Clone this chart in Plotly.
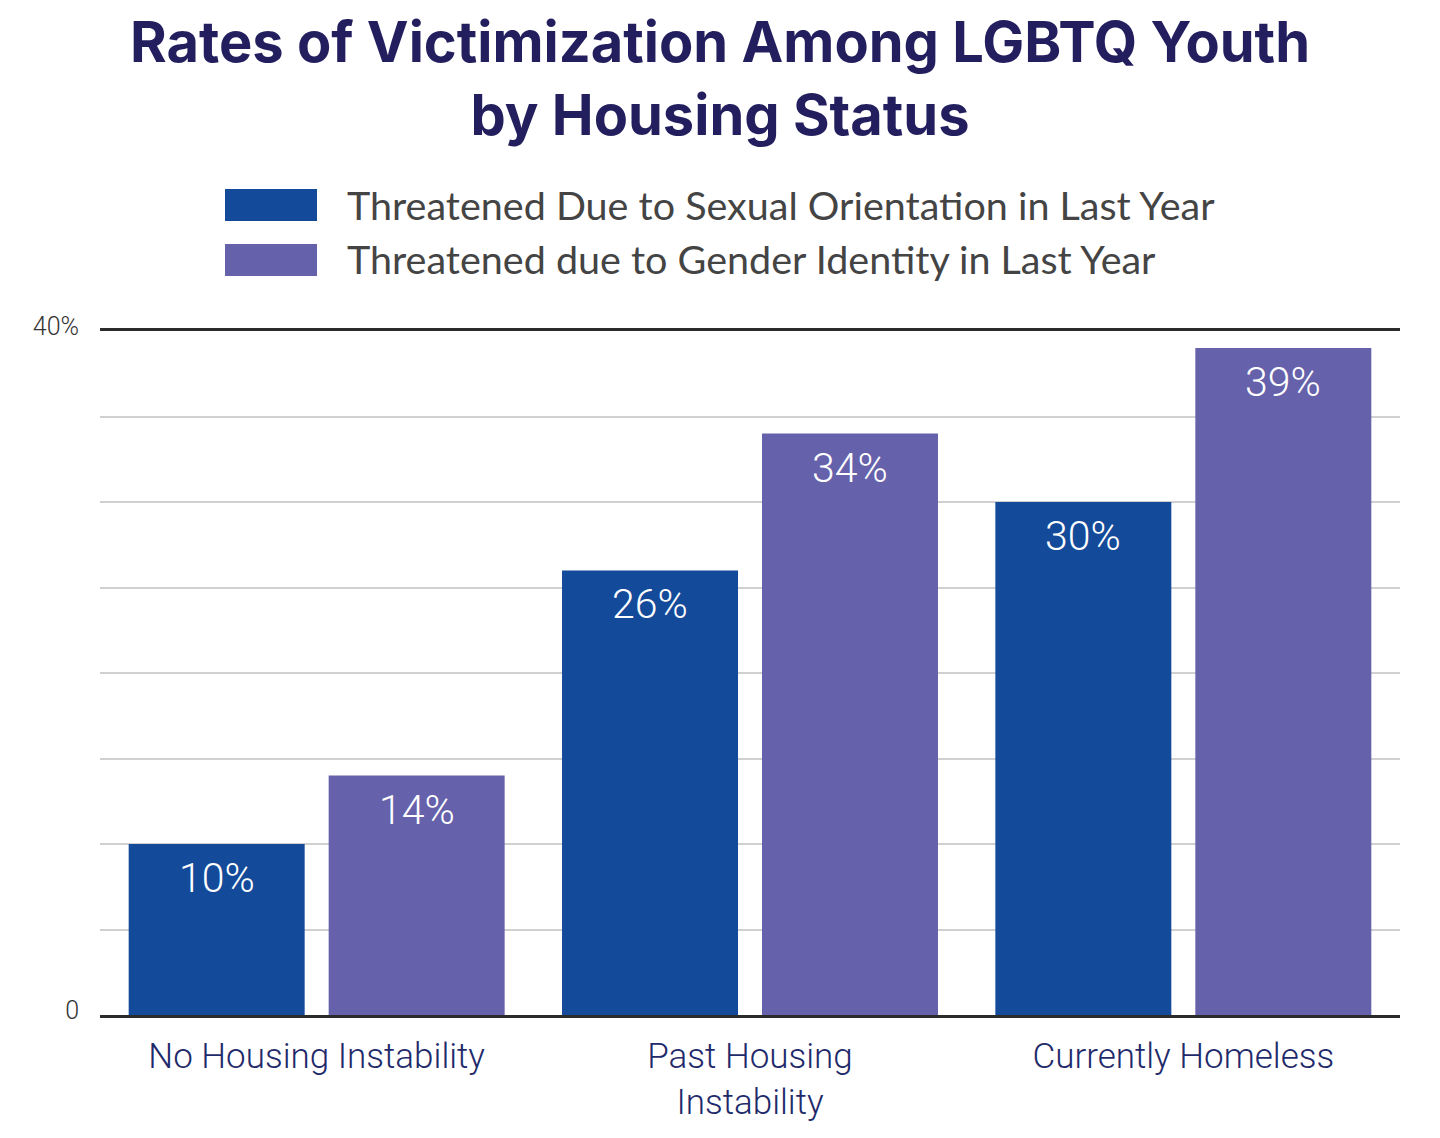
import plotly.graph_objects as go

# ---------- data ----------
categories = ["No Housing Instability", "Past Housing<br>Instability", "Currently Homeless"]
series_names = [
    "Threatened Due to Sexual Orientation in Last Year",
    "Threatened due to Gender Identity in Last Year",
]
sexual_orientation = [10, 26, 30]
gender_identity = [14, 34, 39]
y_tickvals = [0, 40]
y_ticktext = ["0", "40%"]

colors = ["#144a9a", "#6561ab"]
W, H = 1440, 1138
OFF = 8  # page body margin
M_L, M_R, M_T, M_B = 100 - OFF, 48, 331 - OFF, 123 + OFF


def px_x(x):
    return (x - OFF - M_L) / (W - M_L - M_R)


def px_y(y):
    return (H - M_B - (y - OFF)) / (H - M_T - M_B)


fig = go.Figure()
for name, vals, col in zip(series_names, [sexual_orientation, gender_identity], colors):
    fig.add_trace(go.Bar(
        x=categories, y=vals, name=name, marker_color=col,
        marker_line_width=0, showlegend=False,
    ))

# --- value labels inside bars, near the top ---
offsets = [-0.2308, 0.2308]
for off, vals in zip(offsets, [sexual_orientation, gender_identity]):
    for i, v in enumerate(vals):
        fig.add_annotation(
            x=i + off, y=v, xref="x", yref="y", text=f"{v}%",
            showarrow=False, yshift=-34,
            font=dict(family="Roboto", size=41, color="white", weight=300),
        )

# --- legend drawn by hand (big swatches) ---
legend_rows = [(189, 221, 204), (244, 276, 259)]
for (y0, y1, yc), name, col in zip(legend_rows, series_names, colors):
    fig.add_shape(type="rect", xref="paper", yref="paper",
                  x0=px_x(225), x1=px_x(317), y0=px_y(y1), y1=px_y(y0),
                  fillcolor=col, line_width=0)
    fig.add_annotation(x=px_x(345), y=px_y(yc), xref="paper", yref="paper",
                       xanchor="left", yanchor="middle", showarrow=False,
                       text=name, font=dict(family="Lato", size=39.5, color="#444444"))

# --- title ---
fig.add_annotation(
    x=px_x(720), y=px_y(79), xref="paper", yref="paper",
    xanchor="center", yanchor="middle", showarrow=False,
    text="<b>Rates of Victimization Among LGBTQ Youth<br>by Housing Status</b>",
    font=dict(family="Inter", size=56, color="#231f5e"),
)

fig.update_layout(
    width=W, height=H,
    margin=dict(l=M_L, r=M_R, t=M_T, b=M_B),
    paper_bgcolor="white", plot_bgcolor="white",
    barmode="group", bargap=0.077, bargroupgap=0.12,
    xaxis=dict(
        showline=True, mirror=True, linecolor="#2b2b2b", linewidth=3,
        showgrid=False, ticks="", ticklabelstandoff=8,
        tickfont=dict(family="Roboto", size=35, color="#1f2a6b", weight=300),
    ),
    yaxis=dict(
        range=[0, 40], tickvals=y_tickvals, ticktext=y_ticktext,
        showgrid=False, zeroline=False, showline=False, ticks="",
        ticklabelstandoff=20, ticklabelshift=-5,
        tickfont=dict(family="Roboto", size=25, color="#333333", weight=300),
        minor=dict(dtick=5, showgrid=True, gridcolor="#d0d0d0", gridwidth=1.5),
    ),
)

fig.write_html("out.html")
